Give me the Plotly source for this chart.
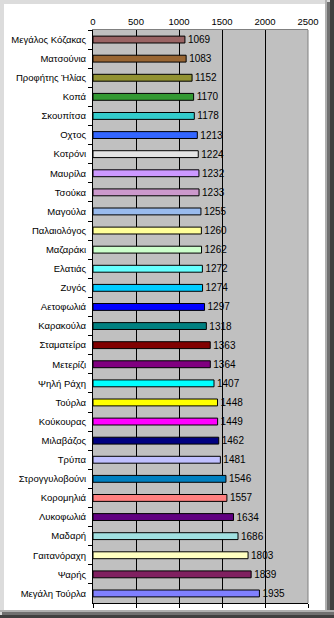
import plotly.graph_objects as go

names = ["Μεγάλος Κόζακας", "Ματσούνια", "Προφήτης Ήλίας", "Κοπά", "Σκουπίτσα",
         "Οχτος", "Κοτρόνι", "Μαυρίλα", "Τσούκα", "Μαγούλα", "Παλαιολόγος",
         "Μαζαράκι", "Ελατιάς", "Ζυγός", "Αετοφωλιά", "Καρακούλα", "Σταματείρα",
         "Μετερίζι", "Ψηλή Ράχη", "Τούρλα", "Κούκουρας", "Μιλαβάζος", "Τρύπα",
         "Στρογγυλοβούνι", "Κορομηλιά", "Λυκοφωλιά", "Μαδαρή", "Γαιτανόραχη",
         "Ψαρής", "Μεγάλη Τούρλα"]
values = [1069, 1083, 1152, 1170, 1178, 1213, 1224, 1232, 1233, 1255, 1260,
          1262, 1272, 1274, 1297, 1318, 1363, 1364, 1407, 1448, 1449, 1462,
          1481, 1546, 1557, 1634, 1686, 1803, 1839, 1935]
colors = ["#9a6464", "#996633", "#929232", "#339933", "#33CCCC", "#3366FF",
          "#E3E3E3", "#CC99FF", "#CC99CC", "#99BBEE", "#FFFF99", "#CCFFCC",
          "#66FFFF", "#00CCFF", "#0000FF", "#008080", "#800000", "#800080",
          "#00FFFF", "#FFFF00", "#FF00FF", "#000080", "#C0C0FF", "#0080C0",
          "#FF8080", "#600080", "#A0E0E0", "#FFFFC0", "#802060", "#8080FF"]
x_ticks = [0, 500, 1000, 1500, 2000, 2500]

FONT = "Liberation Sans, Arial, sans-serif"

W, H = 334, 618
L, R, T, B = 93, 308, 30, 603


def fx(px):
    return (px - L) / (R - L)


def fy(py):
    return (B - py) / (B - T)


fig = go.Figure()
fig.add_trace(go.Bar(
    x=values, y=names, orientation="h",
    marker=dict(color=colors, line=dict(color="black", width=1)),
    text=[str(v) for v in values], textposition="outside",
    textfont=dict(family=FONT, size=10, color="black"),
    constraintext="none", cliponaxis=False, hoverinfo="x+y",
))
fig.add_trace(go.Scatter(x=[None], y=[None], xaxis="x2", showlegend=False,
                         hoverinfo="skip"))

shapes = []


def band(x0, y0, x1, y1, color):
    shapes.append(dict(type="rect", xref="paper", yref="paper",
                       x0=fx(x0), x1=fx(x1), y0=fy(y0), y1=fy(y1),
                       fillcolor=color, line=dict(width=0), layer="above"))


band(0, 0, 4, H, "#dcdcdc")
band(0, 0, W, 4, "#dcdcdc")
band(325, 0, 327, H, "#b0b0b0")
band(327, 2, 330, H, "#707070")
band(330, 0, W, H, "#404040")
band(0, 610, W, 612, "#b0b0b0")
band(2, 612, W, 615, "#707070")
band(0, 615, W, H, "#404040")
shapes.append(dict(type="line", xref="paper", yref="paper", x0=1, x1=1,
                   y0=0, y1=1, line=dict(color="#808080", width=1),
                   layer="above"))

fig.update_layout(
    width=W, height=H,
    margin=dict(l=L, r=W - R, t=T, b=H - B, autoexpand=False),
    paper_bgcolor="white", plot_bgcolor="#c0c0c0",
    showlegend=False, bargap=0.64,
    font=dict(family=FONT, size=10, color="black"),
    shapes=shapes,
    xaxis=dict(side="top", range=[0, 2500], tickvals=x_ticks,
               ticks="", showline=True, linecolor="#808080",
               showgrid=True, gridcolor="black", gridwidth=1,
               zeroline=False, fixedrange=True, automargin=False,
               tickfont=dict(family=FONT, size=9.5, color="black")),
    xaxis2=dict(overlaying="x", side="bottom", anchor="y", range=[0, 2500],
                tickvals=x_ticks, ticks="outside", ticklen=4,
                tickcolor="black", showticklabels=False, showline=True,
                linecolor="black", showgrid=False, zeroline=False,
                automargin=False),
    yaxis=dict(type="category", autorange="reversed", tickson="boundaries",
               ticks="outside", ticklen=4, tickcolor="black",
               showline=True, linecolor="black", showgrid=False,
               automargin=False, ticklabelstandoff=4,
               tickfont=dict(family=FONT, size=9.5, color="black")),
)

fig.write_html("out.html")
